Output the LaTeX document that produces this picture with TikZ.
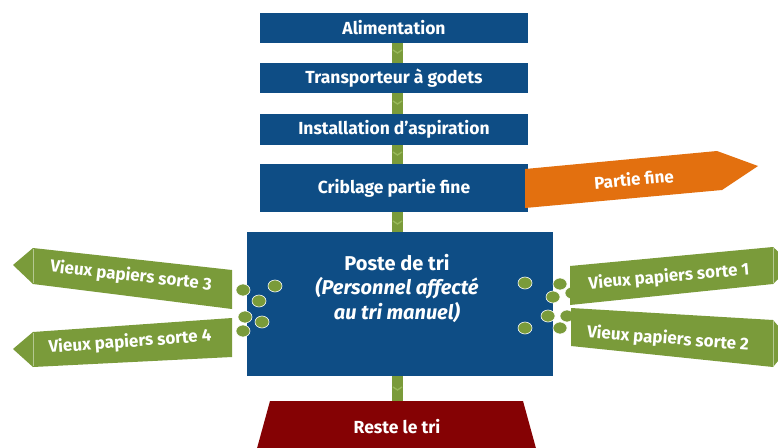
\documentclass[tikz,border=0pt]{standalone}
\usepackage{fontspec}
\setmainfont{Fira Sans}
\definecolor{flowblue}{HTML}{0E4D85}
\definecolor{flowgreen}{HTML}{7A9B3A}
\definecolor{chevgreen}{HTML}{98B85A}
\definecolor{fineorange}{HTML}{E3700F}
\definecolor{restred}{HTML}{850204}
\tikzset{
  stage/.style={fill=flowblue, text=white, font=\bfseries\fontsize{17.5}{19}\selectfont,
    minimum width=268pt, inner sep=0pt},
  belt/.style={draw=flowgreen, line width=11pt},
  chev/.style={draw=chevgreen, line width=1.3pt},
  arrowlabel/.style={text=white, font=\bfseries\fontsize{17}{18}\selectfont},
  dot/.style={fill=flowgreen, draw=white, line width=0.6pt},
  tipline/.style={draw=white, opacity=0.45, line width=0.8pt}
}
\begin{document}
\begin{tikzpicture}[x=1pt, y=-1pt]
  \useasboundingbox (0,0) rectangle (778,447);
  \fill[white] (0,0) rectangle (778,447);

  % process stages
  \node[stage, minimum height=30pt] (ali) at (394,28) {Alimentation};
  \node[stage, minimum height=30pt] (tra) at (394,78) {Transporteur à godets};
  \node[stage, minimum height=31pt] (asp) at (394,129.5) {Installation d'aspiration};
  \node[stage, minimum height=48pt] (cri) at (394,188) {Criblage partie fine};
  \node[fill=flowblue, minimum width=306pt, minimum height=144pt, inner sep=0pt] (tri) at (400,304) {};
  \node[text=white, font=\bfseries\fontsize{20}{24.5}\selectfont, align=center] (tritxt) at (397,288)
    {Poste de tri\\ \textit{(Personnel affecté}\\ \textit{au tri manuel)}};

  % remaining fraction
  \fill[restred] (270,401) -- (523,401) -- (537,452) -- (256,452) -- cycle;
  \node[text=white, font=\bfseries\fontsize{17.5}{19}\selectfont] (reste) at (397,427) {Reste le tri};
  \coordinate (restetop) at (397.5,401);

  % conveyor links between stages
  \draw[belt] ([xshift=3.5pt]ali.south) -- ([xshift=3.5pt]tra.north);
  \draw[belt] ([xshift=3.5pt]tra.south) -- ([xshift=3.5pt]asp.north);
  \draw[belt] ([xshift=3.5pt]asp.south) -- ([xshift=3.5pt]cri.north);
  \draw[belt] ([xshift=3.5pt]cri.south) -- ([xshift=-2.5pt]tri.north);
  \draw[belt] ([xshift=-2.5pt]tri.south) -- (restetop);
  \foreach \y in {53,104,155,224,390}{
    \draw[chev] (393,\y-3) -- (397.5,\y) -- (402,\y-3);
  }

  % sorting outlets (dots)
  \foreach \p in {(243,290),(259,301),(275,286),(245,317),(262,322),(243,331),
                  (525,283),(560,284),(553,297),(572,293),(548,316),(567,316),(560,328),(525,328)}{
    \fill[dot] \p ellipse (7pt and 6pt);
  }

  % fine fraction outlet
  \fill[fineorange] (525,169) -- (717,151) -- (758,166) -- (722,190) -- (525,208) -- cycle;
  \node[text=white, font=\bfseries\fontsize{17}{18}\selectfont, rotate=5] (fine) at (634,179) {Partie fine};

  % paper grades, left
  \fill[flowgreen] (13,265) -- (33,248) -- (232,270) -- (232,309) -- (33,284) -- cycle;
  \draw[tipline] (33,249) -- (33,283);
  \node[arrowlabel, rotate=-6.4] (s3) at (131,276) {Vieux papiers sorte 3};
  \fill[flowgreen] (13,349) -- (33,332) -- (232,318) -- (232,357) -- (33,367) -- cycle;
  \draw[tipline] (33,333) -- (33,366);
  \node[arrowlabel, rotate=4] (s4) at (130,342) {Vieux papiers sorte 4};

  % paper grades, right
  \fill[flowgreen] (570,266) -- (773,247) -- (793,265) -- (773,284) -- (570,305) -- cycle;
  \draw[tipline] (773,248) -- (773,283);
  \node[arrowlabel, rotate=5] (s1) at (669,277) {Vieux papiers sorte 1};
  \fill[flowgreen] (571,308) -- (773,320) -- (793,343) -- (773,367) -- (571,346) -- cycle;
  \draw[tipline] (773,321) -- (773,366);
  \node[arrowlabel, rotate=-4.5] (s2) at (668,339) {Vieux papiers sorte 2};
\end{tikzpicture}
\end{document}
